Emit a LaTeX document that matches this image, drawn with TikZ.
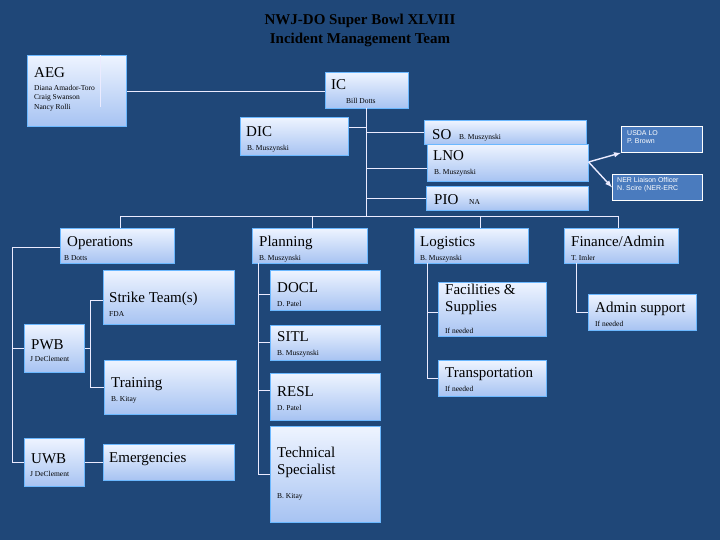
\documentclass[tikz,border=0pt]{standalone}
\usepackage{fontspec}
\setmainfont{Liberation Serif}
\newfontfamily\sansf{Liberation Sans}
\begin{document}
\begin{tikzpicture}[x=1pt,y=-1pt,
  box/.style={draw=white!60!blue!70!cyan, line width=0.6pt, top color=boxtop, bottom color=boxbot, inner sep=0, anchor=north west},
  lobox/.style={draw=white, line width=0.8pt, fill=lofill, inner sep=0, anchor=north west},
  big/.style={anchor=base west, inner sep=0, font=\fontsize{15}{17}\selectfont, text=black},
  sm/.style={anchor=base west, inner sep=0, font=\fontsize{7.5}{9.5}\selectfont, text=black},
  lot/.style={anchor=north west, inner sep=0, font=\sansf\fontsize{7}{8.5}\selectfont, text=white, align=left},
  ln/.style={draw=white!92!blue, line width=0.9pt},
  arr/.style={ln, line width=1.4pt, -latex}]
\definecolor{bg}{HTML}{1F4778}
\definecolor{boxtop}{HTML}{EEF4FF}
\definecolor{boxbot}{HTML}{A7C3F2}
\definecolor{lofill}{HTML}{4A7BBE}
\fill[bg] (0,0) rectangle (720,540);
\useasboundingbox (0,0) rectangle (720,540);
\node[font=\fontsize{15}{19}\selectfont\bfseries, align=center, text=black] (title) at (360,30) {NWJ-DO Super Bowl XLVIII\\Incident Management Team};
% boxes
\newcommand{\bx}[5]{\node[box, minimum width=#4-#2, minimum height=#5-#3] (#1) at (#2,#3) {};}
\bx{aeg}{27}{55}{126}{126}
\bx{ic}{325}{72}{408}{108}
\bx{dic}{240}{117}{348}{155}
\bx{pio}{426}{186}{588}{210}
\bx{lno}{427}{144}{588}{181}
\bx{so}{424}{120}{586}{144}
\node[lobox, minimum width=81, minimum height=26] (usda) at (621,126) {};
\node[lobox, minimum width=90, minimum height=26] (ner) at (612,174) {};
\bx{ops}{60}{228}{174}{263}
\bx{plan}{252}{228}{367}{263}
\bx{log}{414}{228}{528}{263}
\bx{fin}{564}{228}{678}{263}
\bx{strike}{103}{270}{234}{324}
\bx{pwb}{24}{324}{84}{372}
\bx{train}{104}{360}{236}{414}
\bx{uwb}{24}{438}{84}{486}
\bx{emer}{103}{444}{234}{480}
\bx{docl}{270}{270}{380}{310}
\bx{sitl}{270}{325}{380}{360}
\bx{resl}{270}{373}{380}{420}
\bx{tech}{270}{426}{380}{522}
\bx{fac}{438}{282}{546}{336}
\bx{trans}{438}{360}{546}{396}
\bx{adm}{588}{294}{696}{330}
% connectors
\draw[ln] (aeg.east |- 0,91) -- (ic.west |- 0,91);
\draw[ln] (100,55) -- (100,107);
\coordinate (icb) at (366,108);
\coordinate (bus) at (366,216);
\draw[ln] (icb) -- (bus);
\draw[ln] (dic.east |- 0,127) -- (366,127);
\draw[ln] (366,132) -- (so.west |- 0,132);
\draw[ln] (366,168) -- (lno.west |- 0,168);
\draw[ln] (366,198) -- (pio.west |- 0,198);
\draw[ln] (120,216) -- (618,216);
\draw[ln] (120,216) -- (ops.north -| 120,0);
\draw[ln] (312,216) -- (plan.north -| 312,0);
\draw[ln] (480,216) -- (log.north -| 480,0);
\draw[ln] (618,216) -- (fin.north -| 618,0);
\draw[arr] (lno.east |- 0,162) -- (usda.south west);
\draw[arr] (lno.east |- 0,162) -- (ner.west);
\draw[ln] (ops.west |- 0,247) -- (12,247) -- (12,462) -- (uwb.west |- 0,462);
\draw[ln] (12,348) -- (pwb.west |- 0,348);
\draw[ln] (pwb.east |- 0,348) -- (90,348);
\draw[ln] (strike.west |- 0,300) -- (90,300) -- (90,387) -- (train.west |- 0,387);
\draw[ln] (uwb.east |- 0,462) -- (emer.west |- 0,462);
\draw[ln] (258,263) -- (258,474) -- (tech.west |- 0,474);
\draw[ln] (258,294) -- (docl.west |- 0,294);
\draw[ln] (258,342) -- (sitl.west |- 0,342);
\draw[ln] (258,390) -- (resl.west |- 0,390);
\draw[ln] (427,263) -- (427,378) -- (trans.west |- 0,378);
\draw[ln] (427,312) -- (fac.west |- 0,312);
\draw[ln] (576,263) -- (576,312) -- (adm.west |- 0,312);
% texts
\node[big] (t1) at (34,78) {AEG};
\node[sm, align=left, anchor=north west] (t2) at (34,85) {Diana Amador-Toro\\Craig Swanson\\Nancy Rolli};
\node[big] (t3) at (331,90) {IC};
\node[sm] (t4) at (346,104) {Bill Dotts};
\node[big] (t5) at (246,137) {DIC};
\node[sm] (t6) at (247,151) {B. Muszynski};
\node[big] (t7) at (432,140) {SO};
\node[sm] (t8) at (459,140) {B. Muszynski};
\node[big] (t9) at (433,161) {LNO};
\node[sm] (t10) at (434,175) {B. Muszynski};
\node[big] (t11) at (434,205) {PIO};
\node[sm] (t12) at (469,205) {NA};
\node[lot] (t13) at (627,130) {USDA LO\\P. Brown};
\node[lot] (t14) at (617,177) {NER Liaison Officer\\N. Scire (NER-ERC};
\node[big] (t15) at (67,246) {Operations};
\node[sm] (t16) at (64,260) {B Dotts};
\node[big] (t17) at (259,246) {Planning};
\node[sm] (t18) at (259,260) {B. Muszynski};
\node[big] (t19) at (420,246) {Logistics};
\node[sm] (t20) at (420,260) {B. Muszynski};
\node[big] (t21) at (571,246) {Finance/Admin};
\node[sm] (t22) at (571,260) {T. Imler};
\node[big] (t23) at (109,302) {Strike Team(s)};
\node[sm] (t24) at (109,316) {FDA};
\node[big] (t25) at (31,349) {PWB};
\node[sm] (t26) at (30,361) {J DeClement};
\node[big] (t27) at (111,387) {Training};
\node[sm] (t28) at (111,401) {B. Kitay};
\node[big] (t29) at (31,463) {UWB};
\node[sm] (t30) at (30,476) {J DeClement};
\node[big] (t31) at (109,462) {Emergencies};
\node[big] (t32) at (277,292) {DOCL};
\node[sm] (t33) at (277,306) {D. Patel};
\node[big] (t34) at (277,341) {SITL};
\node[sm] (t35) at (277,355) {B. Muszynski};
\node[big] (t36) at (277,396) {RESL};
\node[sm] (t37) at (277,410) {D. Patel};
\node[big, align=left, anchor=north west] (t38) at (277,447) {Technical\\Specialist};
\node[sm] (t39) at (277,498) {B. Kitay};
\node[big, align=left, anchor=north west] (t40) at (445,284) {Facilities \&\\Supplies};
\node[sm] (t41) at (445,333) {If needed};
\node[big] (t42) at (445,377) {Transportation};
\node[sm] (t43) at (445,391) {If needed};
\node[big] (t44) at (595,312) {Admin support};
\node[sm] (t45) at (595,326) {If needed};
\end{tikzpicture}
\end{document}
